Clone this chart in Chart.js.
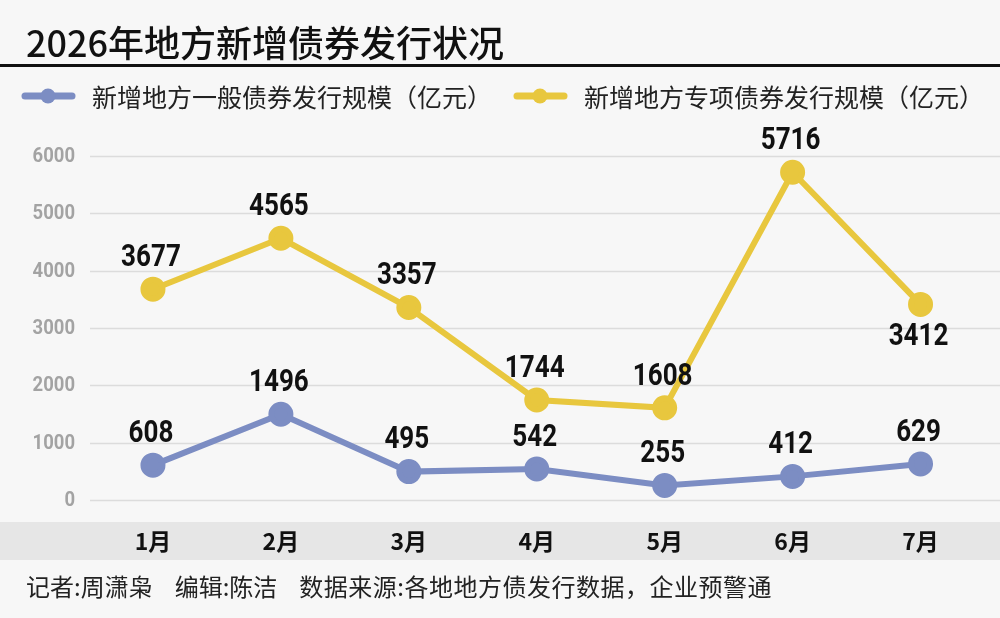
<!DOCTYPE html>
<html>
<head>
<meta charset="utf-8">
<script src="https://cdn.jsdelivr.net/npm/chart.js@4"></script>
<style>
  html, body { margin: 0; padding: 0; background: #f7f7f7; }
  #wrap { position: relative; width: 1000px; height: 618px; overflow: hidden; }
  #title {
    position: absolute; left: 26px; top: 23px;
    font: 500 36px "Noto Sans CJK SC", sans-serif; color: #111; line-height: 1;
  }
  #rule { position: absolute; left: 0; top: 64px; width: 1000px; height: 3px; background: #111; }
  #footer {
    position: absolute; left: 26px; top: 574px;
    font: 24px "Noto Sans CJK SC", sans-serif; color: #222; line-height: 1; white-space: nowrap;
  }
  #footer span { margin-right: 22px; }
  #footer .src { letter-spacing: 0.5px; margin-right: 0; }
  canvas { position: absolute; left: 0; top: 0; }
</style>
</head>
<body>
<div id="wrap">
  <canvas id="chart" width="1000" height="618"></canvas>
  <div id="title">2026年地方新增债券发行状况</div>
  <div id="rule"></div>
  <div id="footer"><span>记者:周潇枭</span><span>编辑:陈洁</span><span class="src">数据来源:各地地方债发行数据，企业预警通</span></div>
</div>
<script>
const months = ["1月", "2月", "3月", "4月", "5月", "6月", "7月"];
const generalBonds = [608, 1496, 495, 542, 255, 412, 629];
const specialBonds = [3677, 4565, 3357, 1744, 1608, 5716, 3412];
const yTicks = [0, 1000, 2000, 3000, 4000, 5000, 6000];
const seriesNames = ["新增地方一般债券发行规模（亿元）", "新增地方专项债券发行规模（亿元）"];
const blue = "#7c8dc3";
const yellow = "#e8c73e";

// label below the point for these (dataset, index) pairs
const labelsBelow = { "1-6": true };

// draw text squeezed horizontally, to mimic a narrow bold face
function narrowText(ctx, text, x, y, squeeze) {
    ctx.save();
    ctx.translate(x, y);
    ctx.scale(squeeze, 1);
    ctx.fillText(text, 0, 0);
    ctx.restore();
}

const backdrop = {
    id: "backdrop",
    beforeDraw(chart) {
        const ctx = chart.ctx;
        const area = chart.chartArea;
        const y = chart.scales.y;
        ctx.save();
        // gray band behind month labels
        ctx.fillStyle = "#e6e6e6";
        ctx.fillRect(0, area.bottom + 22, chart.width, 38);
        // horizontal grid lines + y labels
        ctx.strokeStyle = "#dcdcdc";
        ctx.lineWidth = 1.5;
        ctx.fillStyle = "#a3a3a3";
        ctx.font = 'bold 21px "Roboto", sans-serif';
        ctx.textAlign = "right";
        ctx.textBaseline = "middle";
        yTicks.forEach(v => {
            const py = Math.round(y.getPixelForValue(v)) + 0.5;
            ctx.beginPath();
            ctx.moveTo(90, py);
            ctx.lineTo(chart.width, py);
            ctx.stroke();
            narrowText(ctx, String(v), 75, py, 0.88);
        });
        ctx.restore();
    }
};

const legendAndLabels = {
    id: "legendAndLabels",
    afterDatasetsDraw(chart) {
        const ctx = chart.ctx;
        ctx.save();
        // data labels
        ctx.font = 'bold 31px "Roboto", sans-serif';
        ctx.fillStyle = "#111";
        ctx.textAlign = "center";
        ctx.textBaseline = "middle";
        chart.data.datasets.forEach((ds, di) => {
            chart.getDatasetMeta(di).data.forEach((pt, i) => {
                const below = labelsBelow[di + "-" + i];
                narrowText(ctx, String(ds.data[i]), pt.x - 2, pt.y + (below ? 33 : -31), 0.84);
            });
        });
        // legend
        const items = [
            { x: 22, color: blue, text: seriesNames[0] },
            { x: 514, color: yellow, text: seriesNames[1] }
        ];
        ctx.textAlign = "left";
        ctx.font = '25px "Noto Sans CJK SC", sans-serif';
        items.forEach(it => {
            ctx.strokeStyle = it.color;
            ctx.lineWidth = 7;
            ctx.lineCap = "round";
            ctx.beginPath();
            ctx.moveTo(it.x + 3, 96);
            ctx.lineTo(it.x + 50, 96);
            ctx.stroke();
            ctx.fillStyle = it.color;
            ctx.beginPath();
            ctx.arc(it.x + 26, 96, 7.5, 0, Math.PI * 2);
            ctx.fill();
            ctx.fillStyle = "#222";
            ctx.fillText(it.text, it.x + 70, 97);
        });
        ctx.restore();
    }
};

new Chart(document.getElementById("chart"), {
    type: "line",
    data: {
        labels: months,
        datasets: [
            {
                label: seriesNames[0], data: generalBonds,
                borderColor: blue, backgroundColor: blue,
                borderWidth: 6, pointRadius: 9.5, pointHoverRadius: 9.5
            },
            {
                label: seriesNames[1], data: specialBonds,
                borderColor: yellow, backgroundColor: yellow,
                borderWidth: 6, pointRadius: 9.5, pointHoverRadius: 9.5
            }
        ]
    },
    options: {
        responsive: false,
        animation: false,
        events: [],
        layout: { padding: { top: 156, right: 13, left: 0, bottom: 0 } },
        plugins: { legend: { display: false }, tooltip: { enabled: false } },
        scales: {
            x: {
                offset: true,
                grid: { display: false, drawTicks: false },
                border: { display: false },
                ticks: {
                    padding: 27, color: "#111",
                    font: { family: '"Noto Sans CJK SC", sans-serif', size: 23, weight: "bold" }
                },
                afterFit: s => { s.height = 118; }
            },
            y: {
                min: 0, max: 6000,
                afterBuildTicks: s => { s.ticks = yTicks.map(v => ({ value: v })); },
                grid: { display: false, drawTicks: false },
                border: { display: false },
                ticks: { display: false },
                afterFit: s => { s.width = 89; }
            }
        }
    },
    plugins: [backdrop, legendAndLabels]
});
</script>
</body>
</html>
